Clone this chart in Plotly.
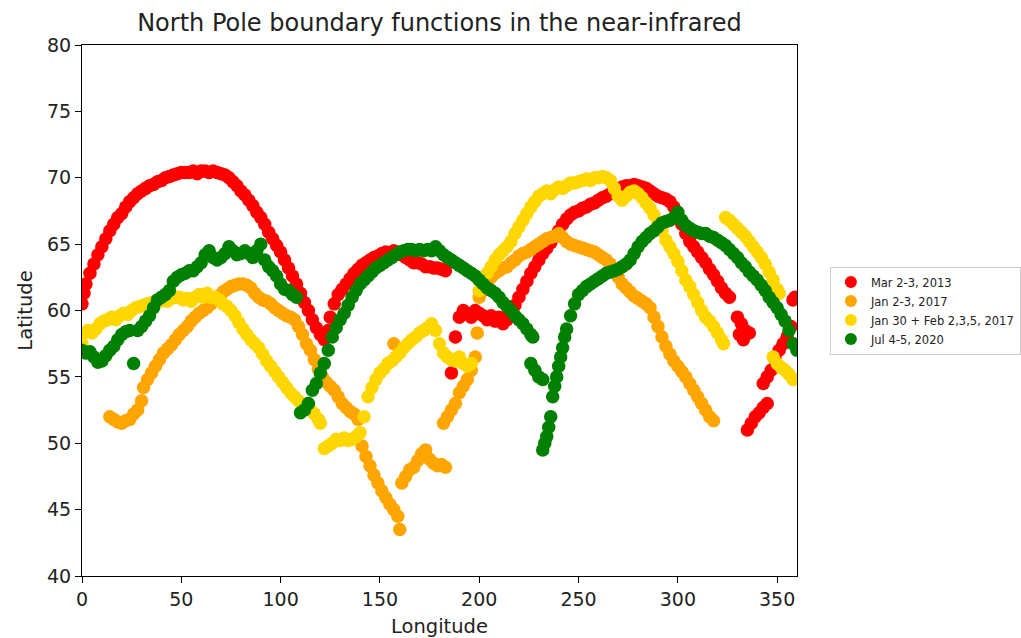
import plotly.graph_objects as go

# ---- data (longitude, latitude) ----
red_points = [
    (0, 60.5), (1, 61.3), (2, 62), (4, 62.8), (6, 63.5), (8, 64.2), (10, 64.8), (12, 65.4), (14, 66),
    (16, 66.5), (18, 67), (20, 67.3), (22, 67.8), (24, 68.2), (26, 68.5), (28, 68.8), (30, 69),
    (32, 69.2), (34, 69.4), (36, 69.5), (38, 69.7), (40, 69.8), (42, 70), (44, 70.1), (46, 70.2),
    (48, 70.3), (50, 70.4), (52, 70.4), (54, 70.4), (56, 70.5), (58, 70.3), (60, 70.5), (62, 70.5),
    (64, 70.4), (66, 70.5), (68, 70.4), (70, 70.3), (72, 70.2), (74, 70), (76, 69.7), (78, 69.4),
    (80, 69), (82, 68.7), (84, 68.3), (86, 67.9), (88, 67.4), (90, 67), (92, 66.5), (94, 65.9),
    (96, 65.4), (98, 64.9), (100, 64.4), (102, 63.8), (104, 63.2), (106, 62.6), (108, 62), (110, 61.3),
    (112, 60.6), (114, 60), (116, 59.3), (118, 58.7), (120, 58.2), (122, 57.8), (124, 58.5), (125, 59.5),
    (127, 60.5), (129, 61.2), (131, 61.6), (133, 62), (135, 62.4), (137, 62.8), (139, 63.1), (141, 63.4),
    (143, 63.6), (145, 63.8), (147, 64), (149, 64.1), (151, 64.3), (153, 64.4), (155, 64.3), (157, 64.5),
    (159, 64.3), (161, 64.2), (163, 64), (165, 63.8), (167, 63.6), (169, 63.6), (171, 63.5), (173, 63.3),
    (175, 63.3), (177, 63.2), (179, 63.2), (181, 63.1), (183, 63),
    (186, 55.3), (188, 58), (190, 59.5), (192, 60), (194, 59.8), (196, 59.5), (198, 60), (200, 59.8),
    (202, 59.6), (204, 59.3), (206, 59.6), (208, 59.2), (210, 59.5), (212, 59), (214, 59.3),
    (216, 59.8), (218, 60.4), (220, 61), (222, 61.6), (224, 62.2), (226, 62.8), (228, 63.3), (230, 63.8),
    (232, 64.3), (234, 64.7), (236, 65.1), (238, 65.6), (240, 66), (242, 66.5), (244, 66.9), (246, 67.2),
    (248, 67.4), (250, 67.5), (252, 67.7), (254, 67.8), (256, 68), (258, 68.1), (260, 68.3), (262, 68.5),
    (264, 68.6), (266, 68.8), (268, 69), (270, 69.1), (272, 69.3), (274, 69.4), (276, 69.4), (278, 69.5),
    (280, 69.4), (282, 69.3), (284, 69.2), (286, 69), (288, 68.8), (290, 68.6), (292, 68.5), (294, 68.4),
    (296, 68.2), (298, 67.8), (300, 67.2), (302, 66.5), (304, 65.8), (306, 65.2), (308, 64.8),
    (310, 64.4), (312, 64), (314, 63.6), (316, 63.1), (318, 62.7), (320, 62.2), (322, 61.7), (324, 61.3),
    (326, 61),
    (330, 59.5), (332, 59), (334, 58.5), (336, 58.3), (333, 57.8), (331, 58.2),
    (335, 51), (337, 51.5), (339, 52), (341, 52.3), (343, 52.7), (345, 53),
    (343, 54.5), (345, 55), (347, 55.5), (349, 56.3), (351, 57), (353, 57.5), (355, 58), (357, 58.8),
    (358, 60.8), (359, 61),
]

orange_points = [
    (14, 52), (16, 51.8), (18, 51.6), (20, 51.5), (22, 51.7), (24, 51.8), (26, 52.2), (28, 52.5),
    (30, 53.2), (31, 54.2), (33, 54.8), (35, 55.3), (37, 55.8), (39, 56.3), (41, 56.8), (43, 57.1),
    (45, 57.4), (47, 57.8), (49, 58.2), (51, 58.5), (53, 58.8), (55, 59.2), (57, 59.5), (59, 59.8),
    (61, 60), (63, 60.2), (65, 60.5), (67, 60.8), (69, 61.1), (71, 61.4), (73, 61.6), (75, 61.8),
    (77, 61.9), (79, 62), (81, 62), (83, 61.9), (85, 61.7), (87, 61.3), (89, 61), (91, 60.8), (93, 60.7),
    (95, 60.5), (97, 60.2), (99, 60), (101, 59.8), (103, 59.6), (105, 59.5), (107, 59.3), (109, 58.8),
    (111, 58.2), (113, 57.5), (115, 57), (117, 56.3), (119, 55.6), (121, 55), (123, 54.6), (125, 54.3),
    (127, 54), (129, 53.5), (131, 53), (133, 52.7), (135, 52.4), (137, 52.2), (139, 51.8),
    (141, 49.8), (143, 49), (145, 48.3), (147, 47.6), (149, 47), (151, 46.4), (153, 45.9), (155, 45.4),
    (157, 45), (159, 44.5), (160, 43.5), (157, 57.5),
    (161, 47), (163, 47.5), (165, 48), (167, 48.2), (169, 48.7), (171, 49.2), (173, 49.5), (175, 48.8),
    (177, 48.5), (179, 48.3), (181, 48.4), (183, 48.2),
    (182, 51.5), (184, 52), (186, 52.5), (188, 53), (190, 53.8), (192, 54.3), (194, 54.8), (196, 55.5),
    (198, 56.5), (199, 58.3), (200, 61),
    (202, 61.5), (204, 62), (206, 62.5), (208, 62.8), (210, 63), (212, 63.2), (214, 63.3), (216, 63.6),
    (218, 63.8), (220, 64.1), (222, 64.3), (224, 64.4), (226, 64.6), (228, 64.8), (230, 65), (232, 65.2),
    (234, 65.4), (236, 65.5), (238, 65.6), (240, 65.8), (242, 65.5), (244, 65.2), (246, 65), (248, 64.9),
    (250, 64.8), (252, 64.7), (254, 64.6), (256, 64.5), (258, 64.4), (260, 64.2), (262, 64), (264, 63.8),
    (266, 63.5), (268, 63), (270, 62.5), (272, 62), (274, 61.7), (276, 61.4), (278, 61.1), (280, 60.9),
    (282, 60.7), (284, 60.5), (286, 60.2), (288, 59.5), (290, 58.8), (292, 58), (294, 57.3), (296, 56.7),
    (298, 56.2), (300, 55.8), (302, 55.4), (304, 55), (306, 54.5), (308, 54), (310, 53.5), (312, 53),
    (314, 52.5), (316, 52), (318, 51.7),
]

yellow_points = [
    (0, 57.5), (1, 58.3), (3, 58.5), (5, 58.3), (7, 58.6), (9, 59), (11, 59.2), (13, 59.3), (15, 59.5),
    (17, 59.3), (19, 59.6), (21, 59.8), (23, 59.7), (25, 60), (27, 60.2), (29, 60.3), (31, 60.4),
    (33, 60.5), (35, 60.6), (37, 60.5), (39, 60.7), (41, 60.8), (43, 60.7), (45, 60.9), (47, 61),
    (49, 61), (51, 60.8), (53, 60.9), (55, 60.7), (57, 61), (59, 61.2), (61, 61), (63, 61.3), (65, 61),
    (67, 61), (69, 60.8), (71, 60.5), (73, 60.3), (75, 60), (77, 59.6), (79, 59.1), (81, 58.6),
    (83, 58.2), (85, 57.8), (87, 57.5), (89, 57.2), (91, 56.7), (93, 56.2), (95, 55.8), (97, 55.4),
    (99, 55), (101, 54.6), (103, 54.2), (105, 53.8), (107, 53.5), (109, 53.2), (111, 53), (113, 52.8),
    (115, 52.5), (117, 52.2), (119, 51.8), (120, 51.5),
    (122, 49.6), (124, 49.8), (126, 50), (128, 50.3), (130, 50.2), (132, 50.4), (134, 50.2), (136, 50.3),
    (138, 50.5), (140, 50.8), (142, 52), (144, 53.5), (146, 54.2), (148, 54.8), (150, 55.3), (152, 55.6),
    (154, 56), (156, 56.2), (158, 56.5), (160, 56.8), (162, 57.2), (164, 57.5), (166, 57.8), (168, 58),
    (170, 58.3), (172, 58.5), (174, 58.7), (176, 59), (178, 58.5), (180, 57.5), (182, 56.8), (184, 56.5),
    (186, 56.3), (188, 56.2), (190, 56.5), (192, 56), (194, 55.8), (196, 56),
    (200, 61.5), (202, 62), (204, 62.8), (206, 63.3), (208, 63.8), (210, 64.2), (212, 64.5), (214, 64.8),
    (216, 65.2), (218, 65.8), (220, 66.3), (222, 66.8), (224, 67.3), (226, 67.8), (228, 68.2), (230, 68.6),
    (232, 68.8), (234, 69), (236, 68.8), (238, 69.1), (240, 69.3), (242, 69.2), (244, 69.4), (246, 69.6),
    (248, 69.6), (250, 69.7), (252, 69.8), (254, 69.9), (256, 69.8), (258, 70), (260, 70), (262, 70.1),
    (264, 70), (266, 69.8), (268, 69.2), (270, 68.6), (272, 68.3), (274, 68.6), (276, 68.9), (278, 69),
    (280, 68.8), (282, 68.5), (284, 68.1), (286, 67.7), (288, 67.2), (290, 66.6), (292, 66), (294, 65.3),
    (296, 64.8), (298, 64.3), (300, 63.7), (302, 63), (304, 62.3), (306, 61.8), (308, 61.2), (310, 60.6),
    (312, 60), (314, 59.5), (316, 59.2), (318, 58.8), (320, 58.3), (322, 57.8), (323, 57.5),
    (324, 67), (326, 66.8), (328, 66.5), (330, 66.2), (332, 65.9), (334, 65.6), (336, 65.2), (338, 64.8),
    (340, 64.4), (342, 64), (344, 63.5), (346, 62.9), (348, 62.3), (350, 61.6), (351, 61.3),
    (348, 56.5), (350, 56), (352, 55.7), (354, 55.5), (356, 55.2), (358, 54.8),
]

green_points = [
    (0, 57), (2, 56.8), (4, 56.9), (6, 56.5), (8, 56.1), (10, 56.2), (12, 56.6), (14, 57), (16, 57.3),
    (18, 57.8), (20, 58.2), (22, 58.4), (24, 58.5), (26, 56), (28, 58.5), (30, 58.8), (32, 59.2),
    (34, 59.6), (36, 60.2), (38, 60.8), (40, 61), (42, 61.2), (44, 61.5), (46, 62.2), (48, 62.5),
    (50, 62.7), (52, 62.8), (54, 63), (56, 63), (58, 63.3), (60, 63.6), (62, 64.2), (64, 64.5), (66, 64),
    (68, 63.8), (70, 64), (72, 64.3), (74, 64.8), (76, 64.5), (78, 64.2), (80, 64.3), (82, 64.5),
    (84, 64.3), (86, 64), (88, 64.5), (90, 65), (92, 63.8), (94, 63.3), (96, 63), (98, 62.6), (100, 62),
    (102, 61.6), (104, 61.5), (106, 61.2), (108, 61),
    (110, 52.3), (112, 52.5), (114, 53), (116, 54), (118, 54.5), (120, 55.3), (122, 56), (124, 57),
    (126, 58), (128, 58.7), (130, 59.3), (132, 59.8), (134, 60.4), (136, 61), (138, 61.5), (140, 62),
    (142, 62.3), (144, 62.6), (146, 62.9), (148, 63.2), (150, 63.4), (152, 63.6), (154, 63.8), (156, 64),
    (158, 64.2), (160, 64.4), (162, 64.5), (164, 64.6), (166, 64.6), (168, 64.5), (170, 64.6), (172, 64.5),
    (174, 64.6), (176, 64.5), (178, 64.8), (180, 64.5), (182, 64.2), (184, 64), (186, 63.8), (188, 63.6),
    (190, 63.4), (192, 63.2), (194, 63), (196, 62.8), (198, 62.6), (200, 62.3), (202, 62), (204, 61.7),
    (206, 61.5), (208, 61.3), (210, 61), (212, 60.6), (214, 60.3), (216, 60), (218, 59.6), (220, 59.3),
    (222, 59), (224, 58.6), (226, 58.2), (227, 58),
    (226, 56), (228, 55.5), (230, 55), (232, 54.8),
    (232, 49.5), (233, 50), (234, 50.5), (235, 51.2), (236, 52), (237, 53.5), (238, 54.3), (239, 55),
    (240, 55.8), (241, 56.5), (242, 57.2), (243, 58), (244, 58.6), (246, 59.6), (248, 60.5), (250, 61.2),
    (252, 61.5), (254, 61.8), (256, 62), (258, 62.2), (260, 62.4), (262, 62.6), (264, 62.8), (266, 62.9),
    (268, 63), (270, 63.1), (272, 63.3), (274, 63.5), (276, 63.8), (278, 64.3), (280, 64.8), (282, 65.2),
    (284, 65.5), (286, 65.8), (288, 66), (290, 66.3), (292, 66.6), (294, 66.7), (296, 66.8), (298, 67),
    (300, 67.4), (302, 66.8), (304, 66.4), (306, 66.2), (308, 66), (310, 65.9), (312, 65.8), (314, 65.8),
    (316, 65.6), (318, 65.5), (320, 65.3), (322, 65.1), (324, 64.9), (326, 64.6), (328, 64.3), (330, 64),
    (332, 63.6), (334, 63.3), (336, 62.9), (338, 62.6), (340, 62.3), (342, 61.9), (344, 61.5), (346, 61),
    (348, 60.6), (350, 60.2), (352, 59.7), (354, 59.2), (356, 58.5), (358, 57.5), (360, 57),
]

series_names = ["Mar 2-3, 2013", "Jan 2-3, 2017", "Jan 30 + Feb 2,3,5, 2017", "Jul 4-5, 2020"]
series_colors = ["red", "orange", "gold", "green"]
x_ticks = [0, 50, 100, 150, 200, 250, 300, 350]
y_ticks = [40, 45, 50, 55, 60, 65, 70, 75, 80]

fig = go.Figure()
for pts, name, color in zip([red_points, orange_points, yellow_points, green_points],
                            series_names, series_colors):
    fig.add_trace(go.Scatter(
        x=[p[0] for p in pts], y=[p[1] for p in pts],
        mode="markers", name=name,
        marker=dict(color=color, size=13.5, line=dict(width=0)),
    ))

axis_common = dict(showline=True, linecolor="black", linewidth=1, mirror=True,
                   ticks="outside", ticklen=6, tickcolor="black", showgrid=False,
                   zeroline=False, automargin=False, tickfont=dict(size=19, color="#222"))

fig.update_layout(
    width=1021, height=638,
    margin=dict(l=82, r=224, t=45, b=62, autoexpand=False),
    paper_bgcolor="white", plot_bgcolor="white",
    font=dict(family="DejaVu Sans", color="#222"),
    title=dict(text="North Pole boundary functions in the near-infrared",
               x=(82 + 797) / 2 / 1021, xanchor="center", y=1 - 23 / 638, yanchor="middle",
               font=dict(size=24, color="#222")),
    xaxis=dict(range=[0, 360], tickvals=x_ticks,
               title=dict(text="Longitude", font=dict(size=19.5), standoff=10), **axis_common),
    yaxis=dict(range=[40, 80], tickvals=y_ticks,
               title=dict(text="Latitude", font=dict(size=19.5), standoff=9), **axis_common),
    legend=dict(x=1.046, xanchor="left", y=0.5, yanchor="middle",
                bordercolor="#cccccc", borderwidth=1, bgcolor="white",
                font=dict(size=11.5, color="#222"), itemsizing="constant",
                tracegroupgap=0),
    showlegend=True,
)

fig.write_html("out.html", config={"displayModeBar": False},
               post_script="document.body.style.margin='0px';document.body.style.overflow='hidden';")
